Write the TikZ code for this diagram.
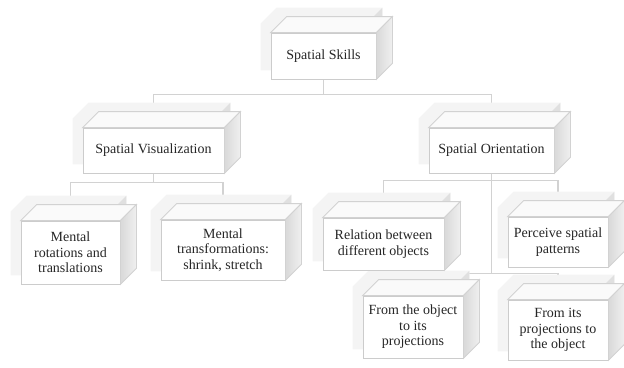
\documentclass[tikz,border=0pt]{standalone}
\usepackage{fontspec}
\setmainfont{Liberation Serif}
\usetikzlibrary{calc}
\pgfdeclarelayer{back}
\pgfdeclarelayer{shade}
\pgfsetlayers{back,shade,main}

\begin{document}
\begin{tikzpicture}[x=1pt,y=-1pt,
	face/.style={draw=gray!40,fill=white,line width=0.8pt,inner sep=0pt,align=center,text=black!85,font=\fontsize{14}{15.5}\selectfont},
	link/.style={draw=gray!35,line width=1.2pt},
	ghost/.style={fill=gray!9},
	ghostside/.style={fill=gray!24},
	topface/.style={fill=gray!4,draw=gray!35,line width=0.8pt},
	sideface/.style={left color=gray!30,right color=gray!12,draw=gray!35,line width=0.8pt}]
		\useasboundingbox (0,0) rectangle (624,367);
		
		% front faces
		\node[face,minimum width=105pt,minimum height=46pt] (skills) at (323.5,56) {Spatial Skills};
		\node[face,minimum width=141pt,minimum height=45pt] (visual) at (153.5,150.5) {Spatial Visualization};
		\node[face,minimum width=125pt,minimum height=45pt] (orient) at (491.5,150.5) {Spatial Orientation};
		\node[face,minimum width=99pt,minimum height=63pt] (rot) at (70.5,252.5) {Mental\\rotations and\\translations};
		\node[face,minimum width=124pt,minimum height=60pt] (trans) at (223,250) {Mental\\transformations:\\shrink, stretch};
		\node[face,minimum width=121pt,minimum height=52pt] (rel) at (383.5,244) {Relation between\\different objects};
		\node[face,minimum width=100pt,minimum height=50pt] (perc) at (558,242) {Perceive spatial\\patterns};
		\node[face,minimum width=100pt,minimum height=62pt] (objproj) at (413,327) {From the object\\to its\\projections};
		\node[face,minimum width=100pt,minimum height=60pt] (projobj) at (558,330) {From its\\projections to\\the object};
		
		% connectors
		\begin{pgfonlayer}{back}
		\draw[link] (skills.south) -- ++(0,15) -| (visual.north);
		\draw[link] (skills.south) -- ++(0,15) -| (orient.north);
		\draw[link] (visual.south) -- ++(0,9) -| (rot.north);
		\draw[link] (visual.south) -- ++(0,9) -| (trans.north);
		\draw[link] (orient.south) -- ++(0,7) -| (rel.north);
		\draw[link] (orient.south) -- ++(0,7) -| (perc.north);
		\draw[link] (orient.south) -- ++(0,100) -| (objproj.north);
		\draw[link] (orient.south) -- ++(0,100) -| (projobj.north);
		\end{pgfonlayer}
		
		% boxes: shadow, top and side
		\foreach \n in {skills,visual,orient,rot,trans,rel,perc,objproj,projobj}{
			\begin{pgfonlayer}{shade}
			\fill[ghost] ($(\n.south west)+(-10,-9)$) -- ($(\n.north west)+(-10,-9)$)
			             -- ($(\n.north west)+(6,-25)$) -- ($(\n.north east)+(6,-25)$)
			             -- ($(\n.south east)+(6,-25)$) -- ($(\n.south east)+(-10,-9)$) -- cycle;
			\fill[ghostside] ($(\n.north east)+(-10,-9)$) -- ($(\n.north east)+(6,-25)$)
			                 -- ($(\n.south east)+(6,-25)$) -- ($(\n.south east)+(-10,-9)$) -- cycle;
			\end{pgfonlayer}
			\draw[topface] (\n.north west) -- ($(\n.north west)+(16,-16)$)
			               -- ($(\n.north east)+(16,-16)$) -- (\n.north east) -- cycle;
			\shade[sideface] (\n.north east) -- ($(\n.north east)+(16,-16)$)
			                 -- ($(\n.south east)+(16,-16)$) -- (\n.south east) -- cycle;
		}
	\end{tikzpicture}
\end{document}
